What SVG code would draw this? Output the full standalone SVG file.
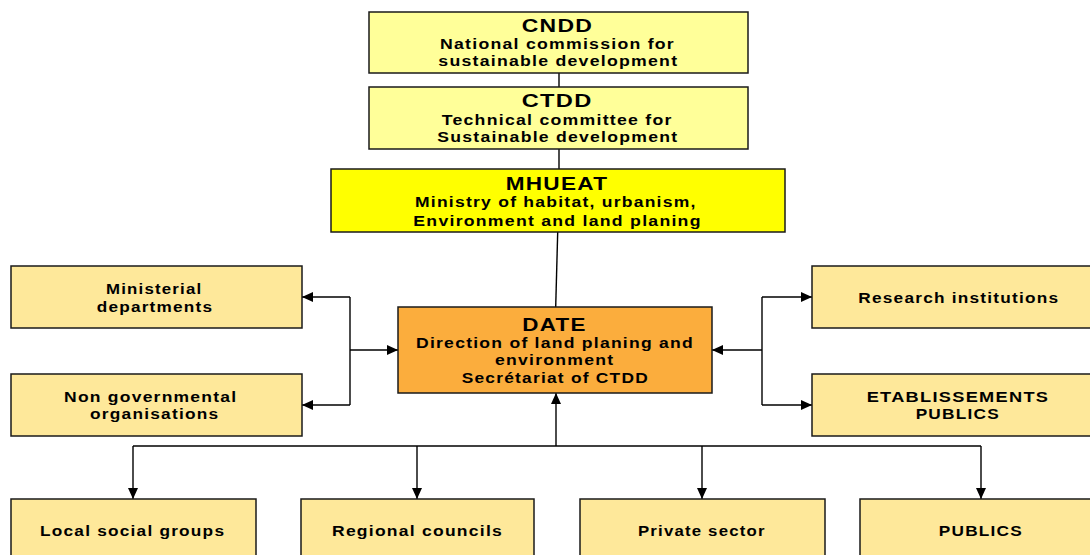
<svg xmlns="http://www.w3.org/2000/svg" width="1090" height="555" viewBox="0 0 1090 555">
<style>
.box{stroke:#1a1a1a;stroke-width:1.5}
.pale{fill:#FFFF99}
.yel{fill:#FFFF00}
.org{fill:#FBAD3D}
.tan{fill:#FEE89A}
text{font-family:"Liberation Sans",Arial,sans-serif;font-weight:bold;fill:#000;text-anchor:middle;letter-spacing:1px}
.t{font-size:17.5px}
.s{font-size:14px}
.ln{stroke:#000;stroke-width:1.4;fill:none}
</style>
<defs>
<marker id="ah" markerUnits="userSpaceOnUse" markerWidth="11" markerHeight="10" refX="11" refY="5" orient="auto">
<path d="M0,0 L11,5 L0,10 z" fill="#000"/>
</marker>
</defs>
<g id="connectors">
<line class="ln" x1="559" y1="73" x2="559" y2="87"/>
<line class="ln" x1="559" y1="149" x2="559" y2="169"/>
<line class="ln" x1="557.7" y1="232" x2="555.7" y2="307"/>
<line class="ln" x1="350" y1="297" x2="350" y2="405"/>
<line class="ln" x1="350" y1="350" x2="398" y2="350" marker-end="url(#ah)"/>
<line class="ln" x1="350" y1="297" x2="302" y2="297" marker-end="url(#ah)"/>
<line class="ln" x1="350" y1="405" x2="302" y2="405" marker-end="url(#ah)"/>
<line class="ln" x1="762" y1="297" x2="762" y2="405"/>
<line class="ln" x1="762" y1="350" x2="712" y2="350" marker-end="url(#ah)"/>
<line class="ln" x1="762" y1="297" x2="812" y2="297" marker-end="url(#ah)"/>
<line class="ln" x1="762" y1="405" x2="812" y2="405" marker-end="url(#ah)"/>
<line class="ln" x1="133" y1="446" x2="981" y2="446"/>
<line class="ln" stroke-width="2" x1="556" y1="446" x2="556" y2="393" marker-end="url(#ah)"/>
<line class="ln" x1="133" y1="446" x2="133" y2="499" marker-end="url(#ah)"/>
<line class="ln" x1="417" y1="446" x2="417" y2="499" marker-end="url(#ah)"/>
<line class="ln" x1="702" y1="446" x2="702" y2="499" marker-end="url(#ah)"/>
<line class="ln" x1="981" y1="446" x2="981" y2="499" marker-end="url(#ah)"/>
</g>
<g id="cndd">
<rect class="box pale" x="369" y="12" width="379" height="61"/>
<text class="t" x="557.5" y="32.3" textLength="71.6" lengthAdjust="spacingAndGlyphs">CNDD</text>
<text class="s" x="557.5" y="49.3" textLength="235" lengthAdjust="spacingAndGlyphs">National commission for</text>
<text class="s" x="558.3" y="66.3" textLength="240" lengthAdjust="spacingAndGlyphs">sustainable development</text>
</g>
<g id="ctdd">
<rect class="box pale" x="369" y="87" width="379" height="62"/>
<text class="t" x="557.2" y="107.3" textLength="71" lengthAdjust="spacingAndGlyphs">CTDD</text>
<text class="s" x="557.2" y="125" textLength="231" lengthAdjust="spacingAndGlyphs">Technical committee for</text>
<text class="s" x="557.8" y="141.7" textLength="241" lengthAdjust="spacingAndGlyphs">Sustainable development</text>
</g>
<g id="mhueat">
<rect class="box yel" x="331" y="169" width="454" height="63"/>
<text class="t" x="557" y="190" textLength="102.6" lengthAdjust="spacingAndGlyphs">MHUEAT</text>
<text class="s" x="555.8" y="207.3" textLength="281.7" lengthAdjust="spacingAndGlyphs">Ministry of habitat, urbanism,</text>
<text class="s" x="557.5" y="225.7" textLength="288.4" lengthAdjust="spacingAndGlyphs">Environment and land planing</text>
</g>
<g id="date">
<rect class="box org" x="398" y="307" width="314" height="86"/>
<text class="t" x="554.5" y="331" textLength="64.4" lengthAdjust="spacingAndGlyphs">DATE</text>
<text class="s" x="555" y="347.7" textLength="278" lengthAdjust="spacingAndGlyphs">Direction of land planing and</text>
<text class="s" x="554.7" y="365" textLength="119.3" lengthAdjust="spacingAndGlyphs">environment</text>
<text class="s" x="555.3" y="383.3" textLength="187.3" lengthAdjust="spacingAndGlyphs">Secrétariat of CTDD</text>
</g>
<g id="ministerial">
<rect class="box tan" x="11" y="266" width="291" height="62"/>
<text class="s" x="154.2" y="294" textLength="96.3" lengthAdjust="spacingAndGlyphs">Ministerial</text>
<text class="s" x="155" y="311.7" textLength="116.6" lengthAdjust="spacingAndGlyphs">departments</text>
</g>
<g id="ngo">
<rect class="box tan" x="11" y="374" width="291" height="62"/>
<text class="s" x="150.7" y="401.7" textLength="173.3" lengthAdjust="spacingAndGlyphs">Non governmental</text>
<text class="s" x="154.7" y="419.3" textLength="129.3" lengthAdjust="spacingAndGlyphs">organisations</text>
</g>
<g id="research">
<rect class="box tan" x="812" y="266" width="279" height="62"/>
<text class="s" x="958.8" y="303.3" textLength="201" lengthAdjust="spacingAndGlyphs">Research institutions</text>
</g>
<g id="etablissements">
<rect class="box tan" x="812" y="374" width="279" height="62"/>
<text class="s" x="958" y="401.7" textLength="182.6" lengthAdjust="spacingAndGlyphs">ETABLISSEMENTS</text>
<text class="s" x="957.8" y="419.3" textLength="84.3" lengthAdjust="spacingAndGlyphs">PUBLICS</text>
</g>
<g id="local">
<rect class="box tan" x="11" y="499" width="245" height="62"/>
<text class="s" x="132.6" y="536" textLength="185.2" lengthAdjust="spacingAndGlyphs">Local social groups</text>
</g>
<g id="regional">
<rect class="box tan" x="301" y="499" width="233" height="62"/>
<text class="s" x="417.5" y="536" textLength="171" lengthAdjust="spacingAndGlyphs">Regional councils</text>
</g>
<g id="private">
<rect class="box tan" x="580" y="499" width="245" height="62"/>
<text class="s" x="701.8" y="536" textLength="127.7" lengthAdjust="spacingAndGlyphs">Private sector</text>
</g>
<g id="publics">
<rect class="box tan" x="860" y="499" width="231" height="62"/>
<text class="s" x="980.9" y="536" textLength="84.2" lengthAdjust="spacingAndGlyphs">PUBLICS</text>
</g>
</svg>
